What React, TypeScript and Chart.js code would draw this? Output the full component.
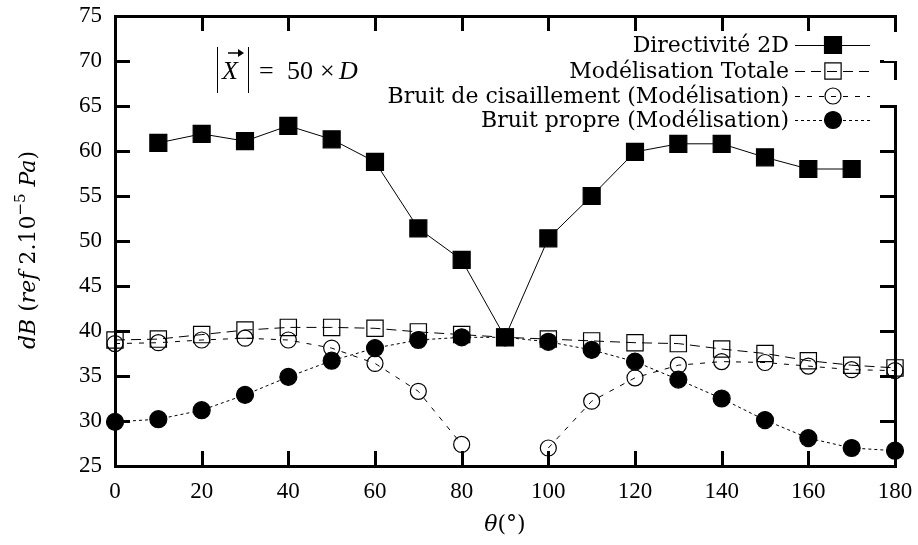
import React, { useEffect, useRef } from 'react';
import { Chart, registerables } from 'chart.js';

Chart.register(...registerables);

// ---------- data ----------
const angles = [0, 10, 20, 30, 40, 50, 60, 70, 80, 90, 100, 110, 120, 130, 140, 150, 160, 170, 180];
const directivite2D = [null, 60.9, 61.9, 61.1, 62.8, 61.3, 58.8, 51.4, 47.9, 39.3, 50.3, 55.0, 59.9, 60.8, 60.8, 59.3, 58.0, 58.0, null];
const modelisationTotale = [39.0, 39.1, 39.6, 40.1, 40.4, 40.4, 40.3, 39.9, 39.6, 39.3, 39.1, 38.9, 38.7, 38.6, 38.0, 37.5, 36.7, 36.2, 35.9];
const bruitCisaillement = [38.6, 38.7, 39.0, 39.2, 39.0, 38.1, 36.4, 33.3, 27.4, null, 27.0, 32.2, 34.8, 36.2, 36.6, 36.5, 36.1, 35.7, 35.6];
const bruitPropre = [29.9, 30.2, 31.2, 32.9, 34.9, 36.7, 38.1, 39.0, 39.3, 39.3, 38.8, 37.9, 36.6, 34.6, 32.5, 30.1, 28.1, 27.0, 26.7];

const seriesLabels = [
  'Directivité 2D',
  'Modélisation Totale',
  'Bruit de cisaillement (Modélisation)',
  'Bruit propre (Modélisation)',
];
const xTickValues = [0, 20, 40, 60, 80, 100, 120, 140, 160, 180];
const yTickValues = [25, 30, 35, 40, 45, 50, 55, 60, 65, 70, 75];

// ---------- styles ----------
const TICK_FONT = '"Liberation Serif", serif';
const TEXT_FONT = '"DejaVu Serif", serif';

type SeriesStyle = {
  dash: number[];
  shape: 'rect' | 'circle';
  radius: number;
  filled: boolean;
};
const styles: SeriesStyle[] = [
  { dash: [], shape: 'rect', radius: 12, filled: true },
  { dash: [10, 6], shape: 'rect', radius: 11.5, filled: false },
  { dash: [5, 7], shape: 'circle', radius: 8, filled: false },
  { dash: [3, 3], shape: 'circle', radius: 8.5, filled: true },
];

function toPoints(vals: (number | null)[]) {
  return angles.map((a, i) => ({ x: a, y: vals[i] }));
}

function drawMarker(ctx: CanvasRenderingContext2D, s: SeriesStyle, x: number, y: number) {
  ctx.save();
  ctx.setLineDash([]);
  ctx.lineWidth = 1.2;
  ctx.strokeStyle = '#000';
  ctx.fillStyle = '#000';
  ctx.beginPath();
  if (s.shape === 'rect') {
    const h = Math.SQRT1_2 * s.radius;
    ctx.rect(x - h, y - h, 2 * h, 2 * h);
  } else {
    ctx.arc(x, y, s.radius, 0, Math.PI * 2);
  }
  if (s.filled) ctx.fill();
  ctx.stroke();
  ctx.restore();
}

function drawFrame(chart: any) {
  const ctx: CanvasRenderingContext2D = chart.ctx;
  const a = chart.chartArea;
  const L = Number(a.left), R = Number(a.right), T = Number(a.top), B = Number(a.bottom);
  const x0 = xTickValues[0], x1 = xTickValues[xTickValues.length - 1];
  const y0 = yTickValues[0], y1 = yTickValues[yTickValues.length - 1];
  const len = 15;
  const lw = 3;
  ctx.save();
  ctx.setLineDash([]);
  ctx.fillStyle = '#000';
  for (let i = 0; i < xTickValues.length; i++) {
    const px = Math.round(L + ((xTickValues[i] - x0) / (x1 - x0)) * (R - L));
    ctx.fillRect(px - 1, B - len, 3, len);
    ctx.fillRect(px - 1, T, 3, len);
  }
  for (let i = 0; i < yTickValues.length; i++) {
    const py = Math.round(B - ((yTickValues[i] - y0) / (y1 - y0)) * (B - T));
    ctx.fillRect(L, py - 1, len, 3);
    ctx.fillRect(R - len, py - 1, len, 3);
  }
  ctx.fillRect(L - 1, T - 1, R - L + lw, lw);
  ctx.fillRect(L - 1, B - 1, R - L + lw, lw);
  ctx.fillRect(L - 1, T - 1, lw, B - T + lw);
  ctx.fillRect(R - 1, T - 1, lw, B - T + lw);
  ctx.restore();
}

const framePlugin = {
  id: 'gnuFrame',
  beforeDatasetsDraw(chart: any) {
    drawFrame(chart);
  },
};

const keyPlugin = {
  id: 'gnuKey',
  afterDatasetsDraw(chart: any) {
    const ctx: CanvasRenderingContext2D = chart.ctx;
    ctx.save();
    // key text boxes clearing the border (as in the original)
    ctx.fillStyle = '#fff';
    ctx.fillRect(884, 32, 16, 29);
    ctx.fillRect(884, 80, 16, 25);

    const rows = [45, 71, 96, 120];
    const textRight = 789;
    const sampleL = 795;
    const sampleR = 870;
    const markerX = 833;
    ctx.font = `22px ${TEXT_FONT}`;
    ctx.fillStyle = '#000';
    ctx.textAlign = 'right';
    ctx.textBaseline = 'alphabetic';
    seriesLabels.forEach((lab, i) => {
      const y = rows[i];
      ctx.fillText(lab, textRight, y + 7);
      ctx.save();
      ctx.strokeStyle = '#000';
      ctx.lineWidth = 1;
      ctx.setLineDash(styles[i].dash);
      ctx.beginPath();
      ctx.moveTo(sampleL, y + 0.5);
      ctx.lineTo(sampleR, y + 0.5);
      ctx.stroke();
      ctx.restore();
      drawMarker(ctx, styles[i], markerX, y);
    });
    ctx.restore();
  },
  afterDraw(chart: any) {
    const ctx: CanvasRenderingContext2D = chart.ctx;
    ctx.save();
    ctx.fillStyle = '#000';
    ctx.strokeStyle = '#000';

    // ---- annotation |X| = 50 x D ----
    ctx.lineWidth = 1;
    ctx.beginPath();
    ctx.moveTo(217.5, 47);
    ctx.lineTo(217.5, 93);
    ctx.moveTo(248.5, 47);
    ctx.lineTo(248.5, 93);
    ctx.stroke();
    ctx.textAlign = 'left';
    ctx.textBaseline = 'alphabetic';
    ctx.font = `italic 26px ${TICK_FONT}`;
    ctx.fillText('X', 222, 79);
    ctx.lineWidth = 1.5;
    ctx.beginPath();
    ctx.moveTo(228, 53);
    ctx.lineTo(242, 53);
    ctx.stroke();
    ctx.beginPath();
    ctx.moveTo(244, 53);
    ctx.lineTo(238, 49);
    ctx.lineTo(238, 57);
    ctx.closePath();
    ctx.fill();
    ctx.font = `26px ${TICK_FONT}`;
    ctx.fillText('=', 259, 79);
    ctx.fillText('50', 287, 79);
    ctx.fillText('×', 320, 79);
    ctx.font = `italic 26px ${TICK_FONT}`;
    ctx.fillText('D', 339, 79);

    // ---- x axis title θ(°) ----
    const xa = chart.chartArea;
    const cx = (xa.left + xa.right) / 2;
    const partsX = [
      { t: 'θ', f: `italic 22px ${TEXT_FONT}` },
      { t: '(°)', f: `22px ${TEXT_FONT}` },
    ];
    let w = 0;
    partsX.forEach((p) => { ctx.font = p.f; w += ctx.measureText(p.t).width; });
    let x0 = cx - w / 2;
    partsX.forEach((p) => { ctx.font = p.f; ctx.fillText(p.t, x0, 531); x0 += ctx.measureText(p.t).width; });

    // ---- y axis title ----
    const cy = (xa.top + xa.bottom) / 2 + 9;
    const partsY = [
      { t: 'dB', f: `italic 22px ${TEXT_FONT}`, dy: 0 },
      { t: ' (', f: `22px ${TEXT_FONT}`, dy: 0 },
      { t: 'ref', f: `italic 22px ${TEXT_FONT}`, dy: 0 },
      { t: ' 2.10', f: `22px ${TEXT_FONT}`, dy: 0 },
      { t: '−5', f: `15px ${TEXT_FONT}`, dy: -10 },
      { t: ' ', f: `22px ${TEXT_FONT}`, dy: 0 },
      { t: 'Pa', f: `italic 22px ${TEXT_FONT}`, dy: 0 },
      { t: ')', f: `22px ${TEXT_FONT}`, dy: 0 },
    ];
    ctx.translate(35, cy);
    ctx.rotate(-Math.PI / 2);
    let wy = 0;
    partsY.forEach((p) => { ctx.font = p.f; wy += ctx.measureText(p.t).width; });
    let y0 = -wy / 2;
    partsY.forEach((p) => { ctx.font = p.f; ctx.fillText(p.t, y0, p.dy); y0 += ctx.measureText(p.t).width; });
    ctx.restore();
  },
};

export default function App() {
  const canvasRef = useRef<HTMLCanvasElement | null>(null);

  useEffect(() => {
    const canvas = canvasRef.current;
    if (!canvas) return;
    const allSeries = [directivite2D, modelisationTotale, bruitCisaillement, bruitPropre];
    const chart = new Chart(canvas, {
      type: 'line',
      data: {
        datasets: allSeries.map((vals, i) => ({
          label: seriesLabels[i],
          data: toPoints(vals),
          borderColor: '#000',
          borderWidth: 1,
          borderDash: styles[i].dash,
          backgroundColor: styles[i].filled ? '#000' : 'rgba(0,0,0,0)',
          pointStyle: styles[i].shape,
          pointRadius: styles[i].radius,
          pointHoverRadius: styles[i].radius,
          pointBorderWidth: 1.2,
          pointBorderColor: '#000',
          pointBackgroundColor: styles[i].filled ? '#000' : 'rgba(0,0,0,0)',
          tension: 0,
          spanGaps: false,
          fill: false,
          clip: false as any,
        })),
      },
      options: {
        responsive: false,
        animation: false,
        devicePixelRatio: 1,
        layout: { padding: { top: 16, right: 23, left: 0, bottom: 0 } },
        plugins: {
          legend: { display: false },
          tooltip: { enabled: false },
          title: { display: false },
        },
        scales: {
          x: {
            type: 'linear',
            min: xTickValues[0],
            max: xTickValues[xTickValues.length - 1],
            grid: { display: false, drawTicks: false },
            border: { display: false },
            afterBuildTicks: (s: any) => { s.ticks = xTickValues.map((v) => ({ value: v })); },
            ticks: {
              padding: 12,
              color: '#000',
              font: { family: TICK_FONT, size: 23 },
              maxRotation: 0,
              autoSkip: false,
            },
            afterFit: (s: any) => { s.height = 79; s.paddingLeft = 0; s.paddingRight = 0; },
          },
          y: {
            type: 'linear',
            min: yTickValues[0],
            max: yTickValues[yTickValues.length - 1],
            grid: { display: false, drawTicks: false },
            border: { display: false },
            afterBuildTicks: (s: any) => { s.ticks = yTickValues.map((v) => ({ value: v })); },
            ticks: {
              padding: 13,
              color: '#000',
              font: { family: TICK_FONT, size: 23 },
              autoSkip: false,
            },
            afterFit: (s: any) => { s.width = 115; s.paddingTop = 0; s.paddingBottom = 0; },
          },
        },
      },
      plugins: [framePlugin, keyPlugin],
    });
    return () => chart.destroy();
  }, []);

  return (
    <div style={{ position: 'absolute', left: 0, top: 0, width: 918, height: 545, background: '#fff' }}>
      <canvas ref={canvasRef} width={918} height={545} style={{ display: 'block' }} />
    </div>
  );
}
